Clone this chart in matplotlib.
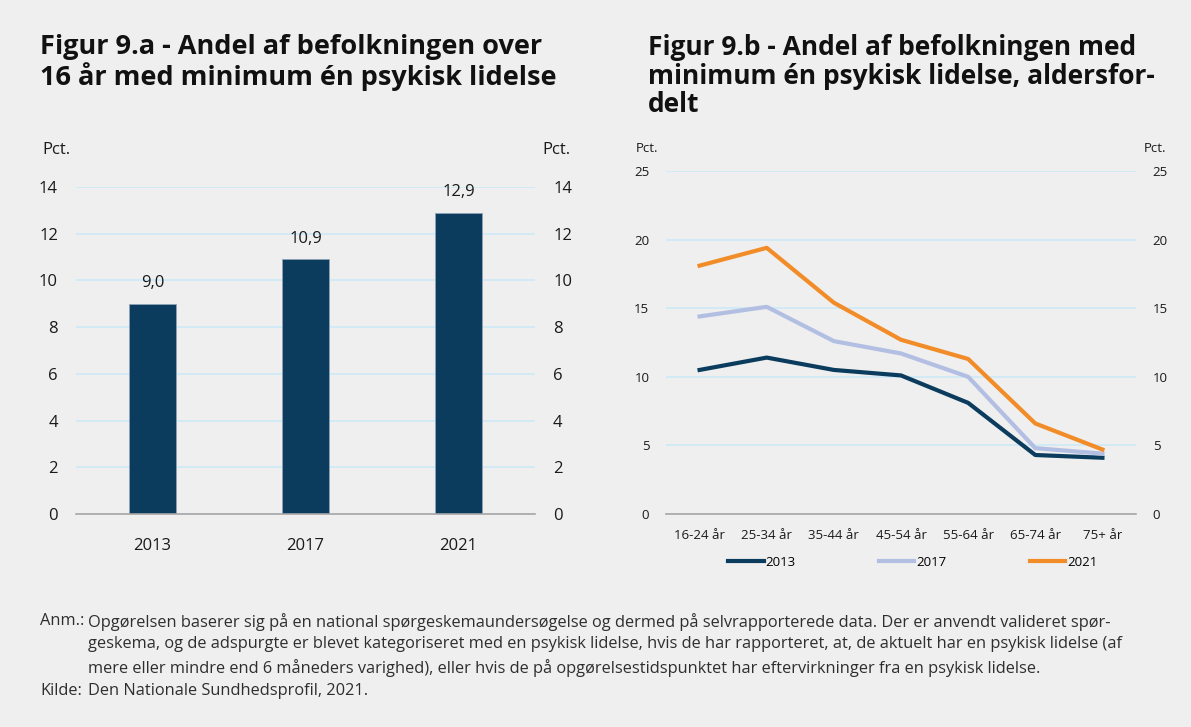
import numpy as np
import matplotlib
matplotlib.use("Agg")
import matplotlib.pyplot as plt

# Data
years = ["2013", "2017", "2021"]
andel = [9.0, 10.9, 12.9]

age_groups = ["16-24 år", "25-34 år", "35-44 år", "45-54 år", "55-64 år", "65-74 år", "75+ år"]
line_2013 = [10.5, 11.4, 10.5, 10.1, 8.1, 4.3, 4.1]
line_2017 = [14.4, 15.1, 12.6, 11.7, 10.0, 4.8, 4.4]
line_2021 = [18.1, 19.4, 15.4, 12.7, 11.3, 6.6, 4.7]

bg = "#efefef"
navy = "#0b3c5d"
grid_col = "#cde8f8"
txt = "#1a1a1a"

plt.rcParams['font.family'] = ['Open Sans', 'DejaVu Sans']

fig = plt.figure(figsize=(11.91, 7.27), dpi=100)
fig.patch.set_facecolor(bg)

def px(x0, y0, x1, y1):
    # pixel box -> figure fraction [left, bottom, width, height]
    W, H = 1191, 727
    return [x0 / W, 1 - y1 / H, (x1 - x0) / W, (y1 - y0) / H]

def style_axis(ax, ymax, step, fs, ypad, xpad):
    ax.set_facecolor(bg)
    ax.set_ylim(0, ymax)
    ax.set_yticks(np.arange(0, ymax + 0.1, step))
    ax.grid(axis="y", color=grid_col, linewidth=1.2)
    ax.set_axisbelow(True)
    for s in ["top", "left", "right"]:
        ax.spines[s].set_visible(False)
    ax.spines["bottom"].set_color("#a6a6a6")
    ax.spines["bottom"].set_linewidth(1.2)
    ax.tick_params(axis="both", length=0, labelsize=fs, colors=txt)
    ax.tick_params(axis="y", labelright=True, pad=ypad)
    ax.tick_params(axis="x", pad=xpad)

# ---- Figur 9.a ----
ax1 = fig.add_axes(px(76, 187, 535, 514))
x1 = np.arange(len(years))
ax1.bar(x1, andel, width=0.31, color=navy, edgecolor="#8fa3b8", linewidth=0.6)
ax1.set_xlim(-0.5, 2.5)
ax1.set_xticks(x1)
ax1.set_xticklabels(years)
style_axis(ax1, 14, 2, 12, 13, 17)
for xi, v in zip(x1, andel):
    ax1.text(xi, v + 0.55, f"{v:.1f}".replace(".", ","), ha="center", va="bottom",
             fontsize=12, color=txt)
fig.text(42 / 1191, 1 - 150 / 727, "Pct.", fontsize=12, color=txt, va="center")
fig.text(570 / 1191, 1 - 150 / 727, "Pct.", fontsize=12, color=txt, va="center", ha="right")
fig.text(40 / 1191, 1 - 34 / 727,
         "Figur 9.a - Andel af befolkningen over\n16 år med minimum én psykisk lidelse",
         fontsize=19.5, fontweight="bold", color="#111111", va="top", linespacing=1.08)

# ---- Figur 9.b ----
ax2 = fig.add_axes(px(666, 171, 1136, 514))
x2 = np.arange(len(age_groups))
ax2.plot(x2, line_2013, color=navy, linewidth=3, label="2013")
ax2.plot(x2, line_2017, color="#b3bfe2", linewidth=3, label="2017")
ax2.plot(x2, line_2021, color="#f28c28", linewidth=3, label="2021")
ax2.set_xlim(-0.5, 6.5)
ax2.set_xticks(x2)
ax2.set_xticklabels(age_groups)
style_axis(ax2, 25, 5, 9.5, 12, 11)
fig.text(636 / 1191, 1 - 149 / 727, "Pct.", fontsize=9.5, color=txt, va="center")
fig.text(1166 / 1191, 1 - 149 / 727, "Pct.", fontsize=9.5, color=txt, va="center", ha="right")
fig.text(648 / 1191, 1 - 34 / 727,
         "Figur 9.b - Andel af befolkningen med\nminimum én psykisk lidelse, aldersfor-\ndelt",
         fontsize=19, fontweight="bold", color="#111111", va="top", linespacing=1.08)
ax2.legend(loc="upper center", bbox_to_anchor=(0.525, -0.088), ncol=3, frameon=False,
           fontsize=9.5, handlelength=2.7, handletextpad=0.15, columnspacing=6.3)

# ---- notes ----
note = ("Opgørelsen baserer sig på en national spørgeskemaundersøgelse og dermed på selvrapporterede data. Der er anvendt valideret spør-\n"
        "geskema, og de adspurgte er blevet kategoriseret med en psykisk lidelse, hvis de har rapporteret, at, de aktuelt har en psykisk lidelse (af\n"
        "mere eller mindre end 6 måneders varighed), eller hvis de på opgørelsestidspunktet har eftervirkninger fra en psykisk lidelse.")
note_col = "#2e2e2e"
fs_note = 11.8
fig.text(40 / 1191, 1 - 613 / 727, "Anm.:", fontsize=fs_note, color=note_col, va="top")
fig.text(88 / 1191, 1 - 613 / 727, note, fontsize=fs_note, color=note_col, va="top",
         linespacing=1.45)
fig.text(40 / 1191, 1 - 683 / 727, "Kilde:", fontsize=fs_note, color=note_col, va="top")
fig.text(88 / 1191, 1 - 683 / 727, "Den Nationale Sundhedsprofil, 2021.", fontsize=fs_note,
         color=note_col, va="top")

fig.savefig("out.png", dpi=100, facecolor=bg)
